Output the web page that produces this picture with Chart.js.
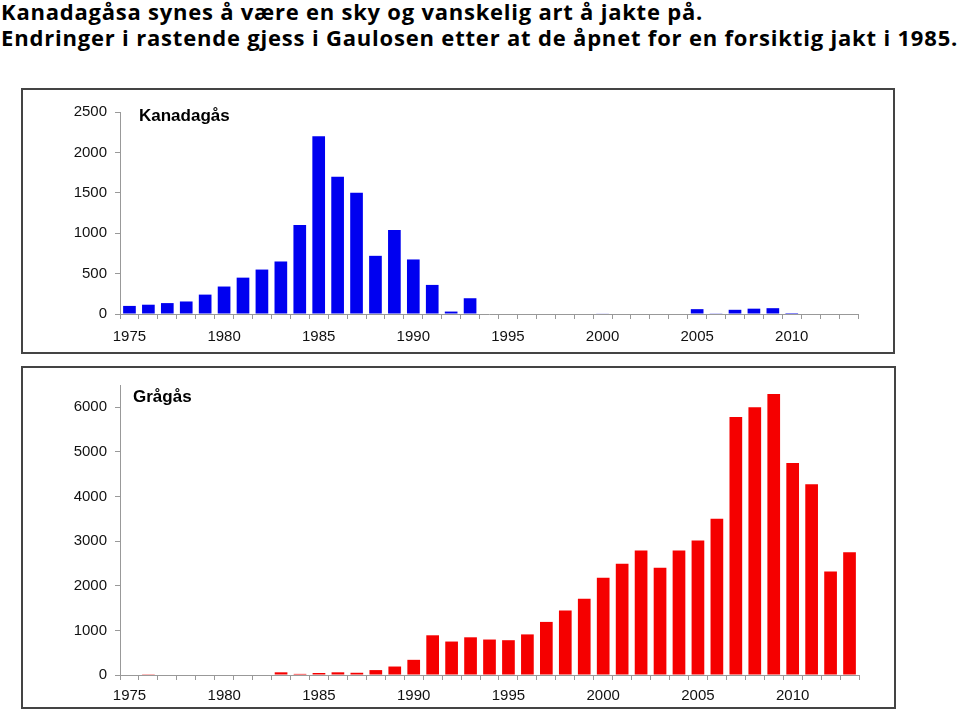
<!DOCTYPE html>
<html>
<head>
<meta charset="utf-8">
<script src="https://cdn.jsdelivr.net/npm/chart.js@4"></script>
<style>
  body { margin: 0; background: #fff; width: 960px; height: 709px; overflow: hidden; position: relative; }
  #title { position: absolute; left: 1px; top: -2px; font-family: "Open Sans", Lato, sans-serif; font-weight: bold; font-size: 22px; line-height: 26px; color: #000; white-space: nowrap; }
  .box { position: absolute; border: 2px solid #444; box-sizing: border-box; background: #fff; }
  .box canvas { position: absolute; left: 0; top: 0; }
  .label { position: absolute; font-family: "Liberation Sans", Arial, sans-serif; font-weight: bold; font-size: 17px; color: #000; }
</style>
</head>
<body>
<div id="title"><span id="t1">Kanadagåsa synes å være en sky og vanskelig art å jakte på.</span><br><span id="t2">Endringer i rastende gjess i Gaulosen etter at de åpnet for en forsiktig jakt i 1985.</span></div>

<div class="box" style="left:21px; top:88px; width:874px; height:266px;">
  <canvas id="chartCanada"></canvas>
  <div class="label" style="left:116px; top:16px;">Kanadagås</div>
</div>
<div class="box" style="left:21px; top:366px; width:875px; height:343px;">
  <canvas id="chartGrey"></canvas>
  <div class="label" style="left:110px; top:19px;">Grågås</div>
</div>

<script>
// years 1975 - 2013
var years = [];
for (var y = 1975; y <= 2013; y++) years.push(String(y));

var canadaGeese = [100, 115, 135, 155, 240, 340, 450, 550, 650, 1100,
                   2200, 1700, 1500, 720, 1040, 675, 360, 30, 195, 0,
                   0, 0, 0, 0, 0, 5, 0, 0, 0, 0,
                   60, 4, 52, 66, 72, 12, 0, 0, 0];

var greyGeese = [0, 5, 0, 0, 0, 0, 0, 0, 60, 25,
                 45, 60, 50, 110, 190, 340, 890, 750, 845, 795,
                 780, 910, 1190, 1445, 1710, 2180, 2495, 2790, 2405, 2790,
                 3015, 3500, 5780, 6000, 6300, 4750, 4275, 2320, 2750];

var canadaTicks = [0, 500, 1000, 1500, 2000, 2500];
var greyTicks = [0, 1000, 2000, 3000, 4000, 5000, 6000];

Chart.defaults.font.family = '"Liberation Sans", Arial, sans-serif';
Chart.defaults.color = '#111';

function makeChart(id, values, color, yMax, yTicks, pad, xHeight, xPad) {
    var ctx = document.getElementById(id).getContext('2d');
    return new Chart(ctx, {
        type: 'bar',
        data: {
            labels: years,
            datasets: [{
                data: values,
                backgroundColor: color,
                borderWidth: 0,
                barPercentage: 0.67,
                categoryPercentage: 1.0
            }]
        },
        options: {
            responsive: false,
            animation: false,
            layout: { padding: pad },
            plugins: { legend: { display: false }, tooltip: { enabled: false } },
            scales: {
                x: {
                    grid: { display: true, drawOnChartArea: false, drawTicks: true, tickLength: 5, color: '#999', offset: true },
                    border: { color: '#999', width: 1 },
                    ticks: {
                        autoSkip: false,
                        maxRotation: 0,
                        padding: xPad,
                        font: { size: 15 },
                        callback: function (value, index) {
                            var yr = Number(years[index]);
                            return yr % 5 === 0 ? years[index] : '';
                        }
                    },
                    afterFit: function (scale) { scale.height = xHeight; }
                },
                y: {
                    min: 0,
                    max: yMax,
                    grid: { display: true, drawOnChartArea: false, drawTicks: true, tickLength: 5, color: '#999' },
                    border: { color: '#999', width: 1 },
                    ticks: {
                        padding: 8,
                        font: { size: 15 },
                        callback: function (value) { return String(value); }
                    },
                    afterBuildTicks: function (scale) {
                        scale.ticks = yTicks.map(function (v) { return { value: v }; });
                    },
                    afterFit: function (scale) { scale.width = 97; }
                }
            }
        }
    });
}

var c1 = document.getElementById('chartCanada');
c1.width = 870; c1.height = 262;
var c2 = document.getElementById('chartGrey');
c2.width = 871; c2.height = 339;

makeChart('chartCanada', canadaGeese, '#0000f0', 2500, canadaTicks,
    { left: 0, right: 35, top: 22, bottom: 0 }, 38, 9);
makeChart('chartGrey', greyGeese, '#f50000', 6500, greyTicks,
    { left: 0, right: 35, top: 15, bottom: 0 }, 32, 7);

// stretch the title lines to the width they have in the original
var widths = { t1: 702, t2: 957 };
Object.keys(widths).forEach(function (id) {
    var el = document.getElementById(id);
    var txt = el.textContent;
    var w = el.getBoundingClientRect().width;
    var extra = (widths[id] - w) / txt.length;
    el.style.letterSpacing = extra.toFixed(2) + 'px';
});
</script>
</body>
</html>
